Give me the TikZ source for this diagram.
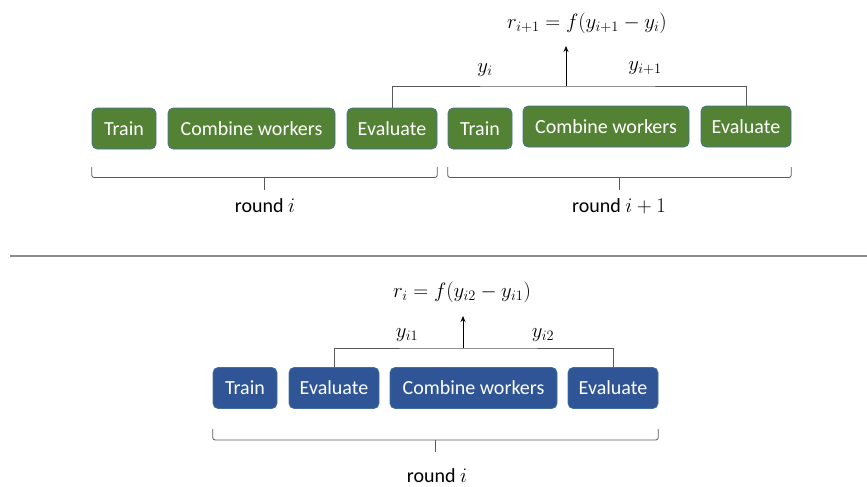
\documentclass[tikz,border=0pt]{standalone}
\usepackage{fontspec}
\setmainfont{Carlito}
\usetikzlibrary{arrows.meta,calc}
\definecolor{stepgreen}{HTML}{548235}
\definecolor{stepblue}{HTML}{2F5597}
\definecolor{stepedge}{HTML}{41719C}
\definecolor{linkgray}{HTML}{595959}
\definecolor{rulegray}{HTML}{8C8C8C}
\begin{document}
\begin{tikzpicture}[x=1pt,y=-1pt,
  stepbox/.style={draw=stepedge,line width=0.6pt,rounded corners=5pt,text=white,
    minimum height=41pt,inner sep=0pt,font=\fontsize{20}{24}\selectfont},
  greenbox/.style={stepbox,fill=stepgreen},
  bluebox/.style={stepbox,fill=stepblue},
  link/.style={draw=linkgray,line width=0.8pt},
  uparrow/.style={draw=black,line width=0.8pt,-{Stealth[length=6pt,width=5pt]}},
  bracepath/.style={draw=linkgray,line width=0.8pt,rounded corners=2.5pt},
  lbl/.style={inner sep=0pt,font=\fontsize{20}{24}\selectfont},
  mathlbl/.style={inner sep=0pt,font=\fontsize{22.5}{26}\selectfont}]
\useasboundingbox (0,0) rectangle (867,487);

% upper sequence: two consecutive rounds
\node[greenbox,minimum width=64pt]  (t1) at (124,128.5) {Train};
\node[greenbox,minimum width=167pt] (t2) at (251.5,128.5) {Combine workers};
\node[greenbox,minimum width=90pt]  (t3) at (392,128.5) {Evaluate};
\node[greenbox,minimum width=64pt]  (t4) at (480,128.5) {Train};
\node[greenbox,minimum width=166pt] (t5) at (606,126.5) {Combine workers};
\node[greenbox,minimum width=90pt]  (t6) at (746,126.5) {Evaluate};

\coordinate (tj) at (566,86);
\coordinate (ta) at (566,46);
\draw[link] (t3.north) |- (tj) -| (t6.north);
\draw[uparrow] (tj) -- (ta);
\node[mathlbl] (tyi)  at (485,70) {$y_i$};
\node[mathlbl] (tyi1) at (645,68) {$y_{i+1}$};
\node[mathlbl] (tf)   at (587,23) {$r_{i+1} = f(y_{i+1} - y_i)$};

% braces under the upper rounds
\coordinate (ue) at (0,167);
\coordinate (ul) at (0,177.5);
\coordinate (ut) at (0,190);
\draw[bracepath] (t1.west |- ue) -- (t1.west |- ul) -- (t3.east |- ul) -- (t3.east |- ue);
\coordinate (m1) at ($(t1.west)!0.5!(t3.east)$);
\draw[link] (m1 |- ul) -- (m1 |- ut);
\draw[bracepath] (t4.west |- ue) -- (t4.west |- ul) -- (t6.east |- ul) -- (t6.east |- ue);
\coordinate (m2) at ($(t4.west)!0.5!(t6.east)$);
\draw[link] (m2 |- ul) -- (m2 |- ut);
\node[lbl] (r1) at (265,206) {round $i$};
\node[lbl] (r2) at (619,206) {round $i+1$};

% separator
\draw[draw=rulegray,line width=1.2pt] (10,256) -- (867,256);

% lower sequence: one round with two evaluations
\node[bluebox,minimum width=64pt]  (b1) at (245,388) {Train};
\node[bluebox,minimum width=90pt]  (b2) at (334,388) {Evaluate};
\node[bluebox,minimum width=167pt] (b3) at (473.5,388) {Combine workers};
\node[bluebox,minimum width=90pt]  (b4) at (613,388) {Evaluate};

\coordinate (bj) at (463,348);
\coordinate (ba) at (463,316);
\draw[link] (b2.north) |- (bj) -| (b4.north);
\draw[uparrow] (bj) -- (ba);
\node[mathlbl] (byi1) at (407,335) {$y_{i1}$};
\node[mathlbl] (byi2) at (543,335) {$y_{i2}$};
\node[mathlbl] (bf)   at (462,292) {$r_i = f(y_{i2} - y_{i1})$};

\coordinate (le) at (0,429);
\coordinate (ll) at (0,440);
\coordinate (lt) at (0,452);
\draw[bracepath] (b1.west |- le) -- (b1.west |- ll) -- (b4.east |- ll) -- (b4.east |- le);
\coordinate (m3) at ($(b1.west)!0.5!(b4.east)$);
\draw[link] (m3 |- ll) -- (m3 |- lt);
\node[lbl] (r3) at (437,476) {round $i$};
\end{tikzpicture}
\end{document}
